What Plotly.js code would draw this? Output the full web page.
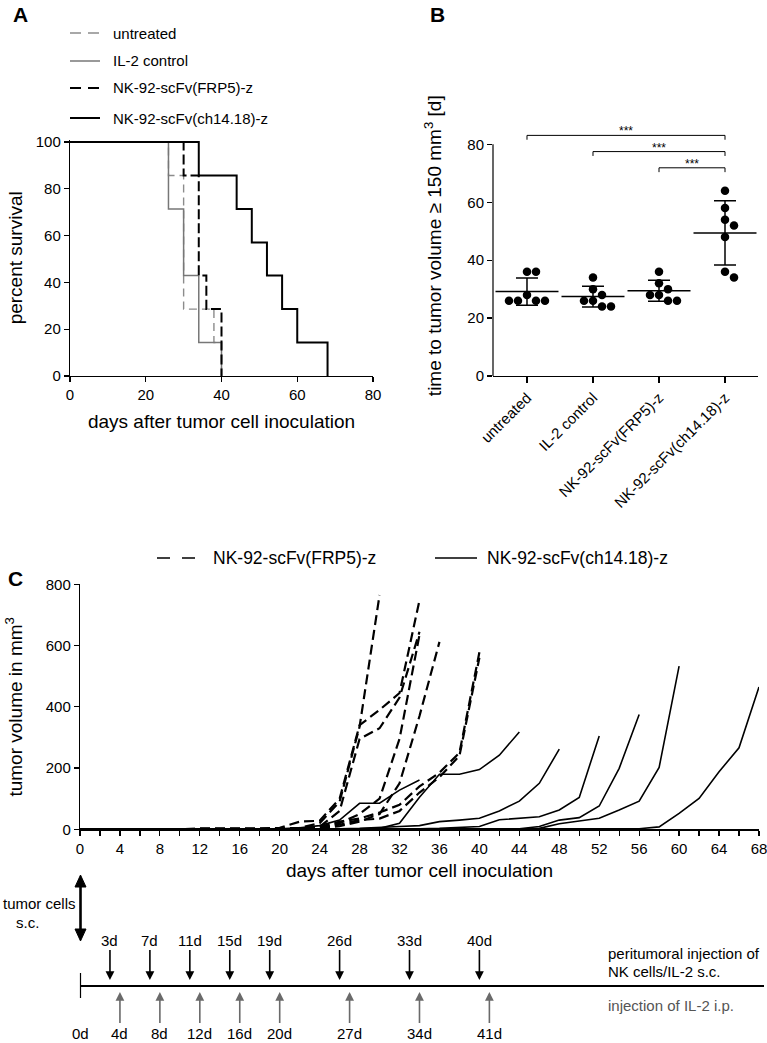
<!DOCTYPE html>
<html>
<head>
<meta charset="utf-8">
<script src="https://cdn.plot.ly/plotly-3.0.1.min.js"></script>
<style>html,body{margin:0;padding:0;background:#fff}#chart{width:767px;height:1043px}</style>
</head>
<body>
<div id="chart"></div>
<script>
// ================= DATA =================
// Panel A - Kaplan-Meier survival (days, percent survival)
const groupNames = ['untreated', 'IL-2 control', 'NK-92-scFv(FRP5)-z', 'NK-92-scFv(ch14.18)-z'];
const survUntreatedDays = [0, 26, 30, 38, 40];
const survUntreatedPct  = [100, 85.7, 28.6, 14.3, 0];
const survIL2Days       = [0, 26, 30, 34, 40];
const survIL2Pct        = [100, 71.4, 42.9, 14.3, 0];
const survFRP5Days      = [0, 30, 34, 36, 40];
const survFRP5Pct       = [100, 85.7, 42.9, 28.6, 0];
const survCh14Days      = [0, 34, 44, 48, 52, 56, 60, 68];
const survCh14Pct       = [100, 85.7, 71.4, 57.1, 42.9, 28.6, 14.3, 0];

// Panel B - time to tumor volume >= 150 mm3 [d], one value per mouse
const timeUntreated = [36, 36, 28, 26, 26, 26, 26];
const timeIL2       = [34, 30, 28, 26, 26, 24, 24];
const timeFRP5      = [36, 32, 30, 28, 28, 26, 26];
const timeCh14      = [64, 58, 54, 52, 48, 36, 34];
const sigPairs  = [[0, 3], [1, 3], [2, 3]];
const sigLabels = ['***', '***', '***'];
const bTicks = [0, 20, 40, 60, 80];

// Panel C - tumor volume (mm3) per mouse, measured every 2 days
const days = [0,2,4,6,8,10,12,14,16,18,20,22,24,26,28,30,32,34,36,38,40,42,44,46,48,50,52,54,56,58,60,62,64,66,68];
const cTicks = [0,4,8,12,16,20,24,28,32,36,40,44,48,52,56,60,64,68];
const frp5Mouse1 = [0,0,0,0,0,0,0,0,0,1,2,5,20,90,335,765];
const frp5Mouse2 = [0,0,0,0,0,0,0,0,0,1,5,25,28,100,340,390,445,748];
const frp5Mouse3 = [0,0,0,0,0,0,0,0,0,0,2,3,8,60,295,330,430,645];
const frp5Mouse4 = [0,0,0,0,0,0,0,0,0,0,1,2,5,20,50,100,295,635];
const frp5Mouse5 = [0,0,0,0,0,0,0,0,0,0,1,2,4,10,25,50,150,370,612];
const frp5Mouse6 = [0,0,0,0,0,0,0,0,0,0,1,2,8,25,35,55,80,140,185,250,578];
const frp5Mouse7 = [0,0,0,0,0,0,0,0,0,0,1,2,5,15,30,35,60,120,170,240,560];
const ch14Mouse1 = [0,0,0,0,0,0,0,0,0,1,2,5,12,30,85,85,128,161];
const ch14Mouse2 = [0,0,0,0,0,0,0,0,0,0,1,1,2,2,2,3,20,105,180,180,195,242,318];
const ch14Mouse3 = [0,0,0,0,0,0,0,0,0,0,0,1,1,2,3,5,9,12,25,30,36,60,92,150,262];
const ch14Mouse4 = [0,0,0,0,0,0,0,0,0,0,0,0,0,0,1,1,1,2,3,5,9,31,37,41,63,104,305];
const ch14Mouse5 = [0,0,0,0,0,0,0,0,0,0,0,0,0,0,0,0,0,1,1,1,1,1,2,9,30,38,76,199,375];
const ch14Mouse6 = [0,0,0,0,0,0,0,0,0,0,0,0,0,0,0,0,0,0,1,1,1,1,1,3,18,27,36,63,92,202,533];
const ch14Mouse7 = [0,0,0,0,0,0,0,0,0,0,0,0,0,0,0,0,0,0,0,0,1,1,1,1,1,1,1,1,2,8,52,101,188,266,465];
const legendC = ['NK-92-scFv(FRP5)-z', 'NK-92-scFv(ch14.18)-z'];

// Treatment schedule
const nkInjectionDays  = [3, 7, 11, 15, 19, 26, 33, 40];
const il2InjectionDays = [4, 8, 12, 16, 20, 27, 34, 41];

// ================= STYLE / LAYOUT HELPERS =================
const W = 767, H = 1043;
const X = px => px / W;
const Y = py => 1 - py / H;
const FONT = 'Liberation Sans, Arial, Helvetica, sans-serif';
const GREY_U = '#8c8c8c', GREY_IL2 = '#777777', GREY_TXT = '#555555';

const axBase = {
  showgrid: false, zeroline: false, showline: true, linecolor: '#000', linewidth: 1.2,
  ticks: 'outside', ticklen: 5, tickwidth: 1.2, tickcolor: '#000', ticklabeloverflow: 'allow',
  tickfont: {family: FONT, size: 15, color: '#000'}
};

const traces = [];
const shapes = [];
const annotations = [];

// ---------- Panel A ----------
const survSets = [
  {d: survUntreatedDays, p: survUntreatedPct, line: {color: GREY_U, width: 1.4, dash: '8px,5px'}},
  {d: survIL2Days, p: survIL2Pct, line: {color: GREY_IL2, width: 1.5}},
  {d: survFRP5Days, p: survFRP5Pct, line: {color: '#000', width: 2, dash: '10px,4px'}},
  {d: survCh14Days, p: survCh14Pct, line: {color: '#000', width: 2}}
];
survSets.forEach((s, i) => {
  traces.push({x: s.d, y: s.p, mode: 'lines', name: groupNames[i], line: Object.assign({shape: 'hv'}, s.line),
    xaxis: 'x', yaxis: 'y', showlegend: false, hoverinfo: 'skip'});
});
// legend of panel A (drawn)
const legAY = [33, 61, 88, 118];
const legADash = ['11px,7px', 'solid', '11px,7px', 'solid'];
survSets.forEach((s, i) => {
  shapes.push({type: 'line', xref: 'paper', yref: 'paper', x0: X(70), x1: X(100), y0: Y(legAY[i]), y1: Y(legAY[i]),
    line: {color: s.line.color, width: s.line.width, dash: legADash[i]}});
  annotations.push({xref: 'paper', yref: 'paper', x: X(111), y: Y(legAY[i]), xanchor: 'left', yanchor: 'middle',
    text: groupNames[i], showarrow: false, font: {family: FONT, size: 15, color: '#000'}});
});

// ---------- Panel B ----------
const bGroups = [timeUntreated, timeIL2, timeFRP5, timeCh14];
const bPxPerY = (376 - 144.3) / 80, bPxPerX = 66;
function swarm(vals) {
  const dia = 8.5, step = 9;
  const placed = [], offs = new Array(vals.length);
  const cands = [0];
  for (let k = 1; k < 10; k++) { cands.push(k * step); cands.push(-k * step); }
  const order = vals.map((_, i) => i).sort((a, b) => vals[b] - vals[a]);
  for (const i of order) {
    const yp = vals[i] * bPxPerY;
    for (const c of cands) {
      if (placed.every(p => Math.hypot(p.x - c, p.y - yp) >= dia)) {
        placed.push({x: c, y: yp}); offs[i] = c / bPxPerX; break;
      }
    }
  }
  return offs;
}
const means = [], sds = [];
bGroups.forEach((vals, g) => {
  const m = vals.reduce((a, b) => a + b, 0) / vals.length;
  const sd = Math.sqrt(vals.reduce((a, b) => a + (b - m) * (b - m), 0) / (vals.length - 1));
  means.push(m); sds.push(sd);
  const offs = swarm(vals);
  traces.push({x: vals.map((v, i) => g + offs[i]), y: vals, mode: 'markers', name: groupNames[g],
    marker: {color: '#000', size: 8.5}, xaxis: 'x2', yaxis: 'y2', showlegend: false, hoverinfo: 'skip', cliponaxis: false});
});
traces.push({x: [0, 1, 2, 3], y: means, mode: 'markers', name: 'mean ± SD',
  marker: {symbol: 'line-ew', size: 45, color: '#000', line: {color: '#000', width: 1.5}},
  error_y: {type: 'data', array: sds, visible: true, color: '#000', thickness: 1.5, width: 11},
  xaxis: 'x2', yaxis: 'y2', showlegend: false, hoverinfo: 'skip', cliponaxis: false});
// y axis line of B (only 0-80)
shapes.push({type: 'line', xref: 'x2 domain', yref: 'y2', x0: 0, x1: 0, y0: 0, y1: 80, line: {color: '#000', width: 1.2}});
// significance brackets
sigPairs.forEach((pr, i) => {
  const L = 71.9 + 5.6 * (sigPairs.length - 1 - i);
  shapes.push({type: 'path', xref: 'x2', yref: 'y2',
    path: `M ${pr[0]},${L - 1.5} L ${pr[0]},${L} L ${pr[1]},${L} L ${pr[1]},${L - 1.5}`,
    line: {color: '#000', width: 1}});
  annotations.push({xref: 'x2', yref: 'y2', x: (pr[0] + pr[1]) / 2, y: L + 1.4, text: sigLabels[i], showarrow: false,
    xanchor: 'center', yanchor: 'middle', font: {family: FONT, size: 12, color: '#000'}});
});

// ---------- Panel C ----------
const frp5All = [frp5Mouse1, frp5Mouse2, frp5Mouse3, frp5Mouse4, frp5Mouse5, frp5Mouse6, frp5Mouse7];
const ch14All = [ch14Mouse1, ch14Mouse2, ch14Mouse3, ch14Mouse4, ch14Mouse5, ch14Mouse6, ch14Mouse7];
ch14All.forEach((v, i) => traces.push({x: days.slice(0, v.length), y: v, mode: 'lines', name: legendC[1],
  line: {color: '#000', width: 1.6}, xaxis: 'x3', yaxis: 'y3', showlegend: false, hoverinfo: 'skip'}));
frp5All.forEach((v, i) => traces.push({x: days.slice(0, v.length), y: v, mode: 'lines', name: legendC[0],
  line: {color: '#000', width: 2.2, dash: '10px,5px'}, xaxis: 'x3', yaxis: 'y3', showlegend: false, hoverinfo: 'skip'}));
// legend of panel C (drawn)
shapes.push({type: 'line', xref: 'paper', yref: 'paper', x0: X(157), x1: X(200), y0: Y(558), y1: Y(558),
  line: {color: '#000', width: 1.6, dash: '13px,12px'}});
shapes.push({type: 'line', xref: 'paper', yref: 'paper', x0: X(435), x1: X(477), y0: Y(558), y1: Y(558),
  line: {color: '#000', width: 1.4}});
annotations.push({xref: 'paper', yref: 'paper', x: X(211), y: Y(558), xanchor: 'left', yanchor: 'middle',
  text: legendC[0], showarrow: false, font: {family: FONT, size: 17.5, color: '#000'}});
annotations.push({xref: 'paper', yref: 'paper', x: X(485), y: Y(558), xanchor: 'left', yanchor: 'middle',
  text: legendC[1], showarrow: false, font: {family: FONT, size: 17.5, color: '#000'}});

// ---------- Treatment schedule (x4/y4, same day scale as C) ----------
const x0px = X(80.5);
shapes.push({type: 'line', xref: 'paper', yref: 'y4', x0: x0px, x1: X(764), y0: 986, y1: 986, line: {color: '#000', width: 1.8}});
shapes.push({type: 'line', xref: 'paper', yref: 'y4', x0: x0px, x1: x0px, y0: 973, y1: 998, line: {color: '#000', width: 1.2}});
// double-headed arrow: tumor cell inoculation at day 0
shapes.push({type: 'line', xref: 'paper', yref: 'y4', x0: x0px, x1: x0px, y0: 884, y1: 932, line: {color: '#000', width: 2.6}});
shapes.push({type: 'path', xref: 'paper', yref: 'y4', path: `M ${X(75)},887 L ${x0px},875 L ${X(86)},887 Z`, fillcolor: '#000', line: {color: '#000', width: 1}});
shapes.push({type: 'path', xref: 'paper', yref: 'y4', path: `M ${X(75)},929 L ${x0px},941 L ${X(86)},929 Z`, fillcolor: '#000', line: {color: '#000', width: 1}});
annotations.push({xref: 'paper', yref: 'y4', x: X(1), y: 903, xanchor: 'left', yanchor: 'middle', text: 'tumor cells',
  showarrow: false, font: {family: FONT, size: 15, color: '#000'}});
annotations.push({xref: 'paper', yref: 'y4', x: X(28), y: 922, xanchor: 'center', yanchor: 'middle', text: 's.c.',
  showarrow: false, font: {family: FONT, size: 15, color: '#000'}});
nkInjectionDays.forEach(d => annotations.push({xref: 'x4', yref: 'y4', x: d, y: 980, ax: d, ay: 940, axref: 'x4', ayref: 'y4',
  text: d + 'd', showarrow: true, arrowhead: 2, arrowsize: 1.1, arrowwidth: 1.6, arrowcolor: '#000', standoff: 0,
  font: {family: FONT, size: 15, color: '#000'}}));
il2InjectionDays.forEach(d => annotations.push({xref: 'x4', yref: 'y4', x: d, y: 992, ax: d, ay: 1033, axref: 'x4', ayref: 'y4',
  text: d + 'd', showarrow: true, arrowhead: 2, arrowsize: 1.1, arrowwidth: 1.6, arrowcolor: '#6a6a6a', standoff: 0,
  font: {family: FONT, size: 15, color: '#000'}}));
annotations.push({xref: 'x4', yref: 'y4', x: 0, y: 1033, text: '0d', showarrow: false, xanchor: 'center', yanchor: 'middle',
  font: {family: FONT, size: 15, color: '#000'}});
annotations.push({xref: 'paper', yref: 'y4', x: X(606), y: 953, xanchor: 'left', yanchor: 'middle', text: 'peritumoral injection of',
  showarrow: false, font: {family: FONT, size: 15, color: '#000'}});
annotations.push({xref: 'paper', yref: 'y4', x: X(606), y: 971, xanchor: 'left', yanchor: 'middle', text: 'NK cells/IL-2 s.c.',
  showarrow: false, font: {family: FONT, size: 15, color: '#000'}});
annotations.push({xref: 'paper', yref: 'y4', x: X(606), y: 1005, xanchor: 'left', yanchor: 'middle', text: 'injection of IL-2 i.p.',
  showarrow: false, font: {family: FONT, size: 15, color: GREY_TXT}});

// ---------- panel letters ----------
[['A', 20, 15], ['B', 437, 15], ['C', 15, 578]].forEach(l => annotations.push({xref: 'paper', yref: 'paper',
  x: X(l[1]), y: Y(l[2]), text: '<b>' + l[0] + '</b>', showarrow: false, xanchor: 'center', yanchor: 'middle',
  font: {family: FONT, size: 21, color: '#000'}}));

const titleFont = {family: FONT, size: 19, color: '#000'};
const layout = {
  width: W, height: H,
  margin: {l: 0, r: 0, t: 0, b: 0},
  paper_bgcolor: '#fff', plot_bgcolor: 'rgba(0,0,0,0)',
  font: {family: FONT, size: 15, color: '#000'},
  showlegend: false,
  xaxis: Object.assign({}, axBase, {domain: [X(70), X(373)], range: [0, 80.001], tickvals: [0, 20, 40, 60, 80], anchor: 'y',
    title: {text: 'days after tumor cell inoculation', font: titleFont, standoff: 12}}),
  yaxis: Object.assign({}, axBase, {domain: [Y(376), Y(139.66)], range: [0, 101], tickvals: [0, 20, 40, 60, 80, 100], anchor: 'x',
    title: {text: 'percent survival', font: titleFont, standoff: 8}}),
  xaxis2: Object.assign({}, axBase, {domain: [X(493), X(758)], range: [-0.515, 3.5], tickvals: [0, 1, 2, 3], ticktext: groupNames,
    tickangle: -45, ticklen: 6, anchor: 'y2'}),
  yaxis2: Object.assign({}, axBase, {domain: [Y(376), Y(115.4)], range: [0, 90], tickvals: bTicks, showline: false, anchor: 'x2',
    title: {text: 'time to tumor volume ≥ 150 mm<sup>3</sup> [d]', font: titleFont, standoff: 20}}),
  xaxis3: Object.assign({}, axBase, {domain: [X(80), X(759)], range: [0, 68.002], tickvals: cTicks, anchor: 'y3',
    minor: {ticks: 'outside', ticklen: 5, tickwidth: 1.2, tickcolor: '#000', tick0: 0, dtick: 2},
    title: {text: 'days after tumor cell inoculation', font: titleFont, standoff: 8}}),
  yaxis3: Object.assign({}, axBase, {domain: [Y(829.3), Y(584.3)], range: [0, 800], tick0: 0, dtick: 200, anchor: 'x3',
    title: {text: 'tumor volume in mm<sup>3</sup>', font: titleFont, standoff: 18}}),
  xaxis4: {domain: [X(80), X(759)], range: [0, 68.002], visible: false, anchor: 'y4'},
  yaxis4: {domain: [0, Y(860)], range: [1043, 860], visible: false, anchor: 'x4'},
  shapes: shapes,
  annotations: annotations
};

Plotly.newPlot('chart', traces, layout, {staticPlot: true, displayModeBar: false});
</script>
</body>
</html>
